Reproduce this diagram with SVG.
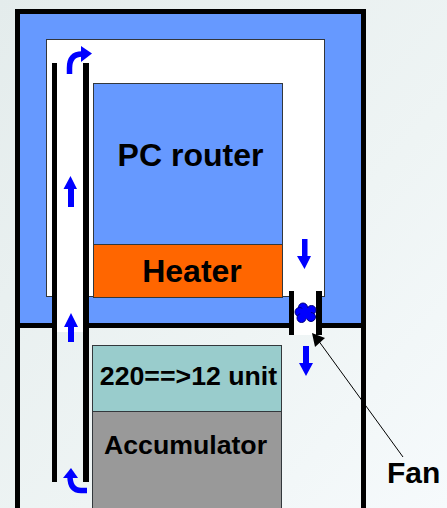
<svg xmlns="http://www.w3.org/2000/svg" width="447" height="508" viewBox="0 0 447 508">
<defs>
<linearGradient id="bg" x1="0" y1="0" x2="1" y2="1"><stop offset="0" stop-color="#e4ecec"/><stop offset="0.6" stop-color="#eef4f4"/><stop offset="1" stop-color="#f6fafc"/></linearGradient>
</defs>
<style>
.box{stroke:#33383c;stroke-width:1}
.wall{fill:#000}
.air{fill:none;stroke:#0000ff;stroke-width:5.500}
.arrow{fill:#0000ff}
text{font-family:"Liberation Sans",Arial,sans-serif;font-weight:bold;fill:#000}
</style>
<rect width="447" height="508" fill="url(#bg)"/>
<g id="enclosure">
<rect x="17.500" y="11.500" width="345" height="314" fill="#6699ff"/>
<rect x="46.500" y="39.500" width="278" height="257" fill="#fff" stroke="#33363a" stroke-width="1"/>
<rect x="57" y="295" width="26" height="37" fill="#fff"/>
<rect x="294" y="295" width="22" height="40" fill="#fff"/>
<path class="wall" d="M15,9H366V508H361V14H20V508H15Z"/>
<rect class="wall" x="20" y="323" width="32" height="5"/>
<rect class="wall" x="88" y="323" width="201" height="5"/>
<rect class="wall" x="322" y="323" width="39" height="5"/>
</g>
<g id="pc-router"><rect class="box" x="93.500" y="83.500" width="189" height="161" fill="#6699ff"/><text x="190.500" y="166" font-size="32" text-anchor="middle">PC router</text></g>
<g id="heater"><rect class="box" x="93.500" y="244.500" width="189" height="53" fill="#ff6600"/><text x="192" y="282" font-size="32" text-anchor="middle">Heater</text></g>
<g id="converter"><rect class="box" x="92.500" y="345.500" width="189" height="66" fill="#99cccc"/><text x="188.500" y="385" font-size="26.700" text-anchor="middle">220==&gt;12 unit</text></g>
<g id="accumulator"><rect class="box" x="92.500" y="411.500" width="189" height="100" fill="#999999"/><text x="185.500" y="454" font-size="26.700" text-anchor="middle">Accumulator</text></g>
<g id="duct"><rect class="wall" x="52" y="63" width="5" height="419"/><rect class="wall" x="83" y="63" width="6" height="419"/></g>
<g id="fan">
<rect class="wall" x="289" y="291" width="5" height="44"/><rect class="wall" x="316" y="291" width="6" height="44"/>
<g fill="#0000ff" stroke="#000080" stroke-width="1"><circle cx="303" cy="307.500" r="4.500"/><circle cx="311.500" cy="310" r="4.500"/><circle cx="299.500" cy="312" r="4.500"/><circle cx="301.500" cy="318" r="4.500"/><circle cx="311" cy="317" r="4.500"/></g>
<circle cx="305.500" cy="313" r="5.500" fill="#0000ff"/>
</g>
<g id="connectors">
<path class="air" d="M69.500,74V68Q69.500,54 82,54"/><path class="arrow" d="M81,46L92,53.500L81,62Z"/>
<path class="air" d="M87,490.500H81Q70,490.500 70,476"/><path class="arrow" d="M63,478L71,468L78,478Z"/>
<path class="arrow" d="M68,342V327H64L71,313L78,327H74V342Z"/>
<path class="arrow" d="M68,207V189H63.500L70.500,176L77,189H74V207Z"/>
<path class="arrow" d="M302,239V256H297L304.500,269L311,256H307.500V239Z"/>
<path class="arrow" d="M303,346V363H299L306,376L313,363H309V346Z"/>
<path d="M403,457L318,340" fill="none" stroke="#000" stroke-width="1"/><path d="M312,333L325,338L315,347Z" fill="#000"/>
</g>
<g id="fan-label"><text x="387" y="483" font-size="30">Fan</text></g>
</svg>
